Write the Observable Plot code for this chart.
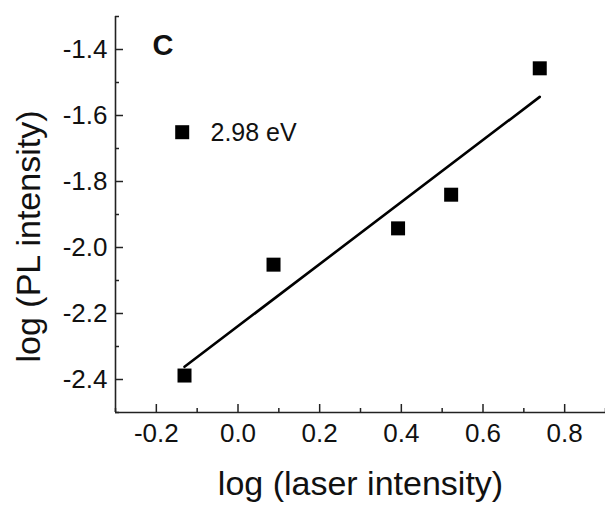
<!DOCTYPE html>
<html><head><meta charset="utf-8">
<script src="https://cdn.jsdelivr.net/npm/d3@7"></script>
<script src="https://cdn.jsdelivr.net/npm/@observablehq/plot@0.6"></script>
<style>html,body{margin:0;padding:0;background:#fff} svg{display:block}</style>
</head><body><div id="chart"></div>
<script>
const laserLog = [-0.131, 0.087, 0.392, 0.522, 0.739];
const plLog = [-2.388, -2.052, -1.942, -1.840, -1.457];
const seriesLabel = "2.98 eV";
const panelLabel = "C";
const xTicks = [-0.2, 0, 0.2, 0.4, 0.6, 0.8];
const xMinor = [-0.3, -0.1, 0.1, 0.3, 0.5, 0.7, 0.9];
const yTicks = [-2.4, -2.2, -2.0, -1.8, -1.6, -1.4];
const yMinor = [-2.5, -2.3, -2.1, -1.9, -1.7, -1.5, -1.3];
const xDomain = [-0.3, 0.9];
const yDomain = [-2.5, -1.3];
const xTitle = "log (laser intensity)";
const yTitle = "log (PL intensity)";

const data = laserLog.map((x, i) => ({x, y: plLog[i]}));
const fmt = d => d.toFixed(1);
const axisColor = "#222";
const font = "'Liberation Sans', Arial, Helvetica, sans-serif";

const chart = Plot.plot({
  width: 605,
  height: 507,
  marginLeft: 115,
  marginRight: 0,
  marginTop: 16,
  marginBottom: 95,
  style: {fontFamily: font, background: "#fff", color: "#000"},
  x: {domain: xDomain},
  y: {domain: yDomain},
  marks: [
    Plot.ruleX([xDomain[0]], {stroke: axisColor, strokeWidth: 1.6}),
    Plot.ruleY([yDomain[0]], {stroke: axisColor, strokeWidth: 1.6}),
    Plot.axisX({ticks: xTicks, tickSize: -8, tickFormat: () => "", label: null, stroke: axisColor, strokeWidth: 1.5}),
    Plot.axisX({ticks: xMinor, tickSize: -4, tickFormat: () => "", label: null, stroke: axisColor, strokeWidth: 1.5}),
    Plot.axisY({ticks: yTicks, tickSize: -8, tickFormat: () => "", label: null, stroke: axisColor, strokeWidth: 1.5}),
    Plot.axisY({ticks: yMinor, tickSize: -4, tickFormat: () => "", label: null, stroke: axisColor, strokeWidth: 1.5}),
    Plot.axisX({ticks: xTicks, tickSize: 0, tickPadding: 11.5, tickFormat: fmt, label: null, fontSize: 26, fill: "#111"}),
    Plot.axisY({ticks: yTicks, tickSize: 0, tickPadding: 8, tickFormat: fmt, label: null, fontSize: 26, fill: "#111"}),
    Plot.linearRegressionY(data, {x: "x", y: "y", ci: 0, stroke: "#000", strokeWidth: 2.6}),
    Plot.dot(data, {x: "x", y: "y", symbol: "square", r: 7.9, fill: "#000", stroke: null}),
    Plot.dot([seriesLabel], {frameAnchor: "top-left", dx: 66.7, dy: 115.7, symbol: "square", r: 7.9, fill: "#000", stroke: null}),
    Plot.text([seriesLabel], {text: d => d, frameAnchor: "top-left", dx: 95, dy: 124.7, textAnchor: "start", lineAnchor: "bottom", fontSize: 25, fill: "#111"}),
    Plot.text([panelLabel], {text: d => d, frameAnchor: "top-left", dx: 47.5, dy: 38.5, textAnchor: "middle", lineAnchor: "bottom", fontSize: 29, fontWeight: "bold", fill: "#111"}),
    Plot.text([xTitle], {text: d => d, frameAnchor: "bottom", dy: 82, textAnchor: "middle", lineAnchor: "bottom", fontSize: 34, fill: "#111"}),
    Plot.text([yTitle], {text: d => d, frameAnchor: "left", dx: -76, dy: 22, rotate: -90, textAnchor: "middle", lineAnchor: "bottom", fontSize: 34, fill: "#111"})
  ]
});
document.getElementById("chart").appendChild(chart);
</script>
</body></html>
